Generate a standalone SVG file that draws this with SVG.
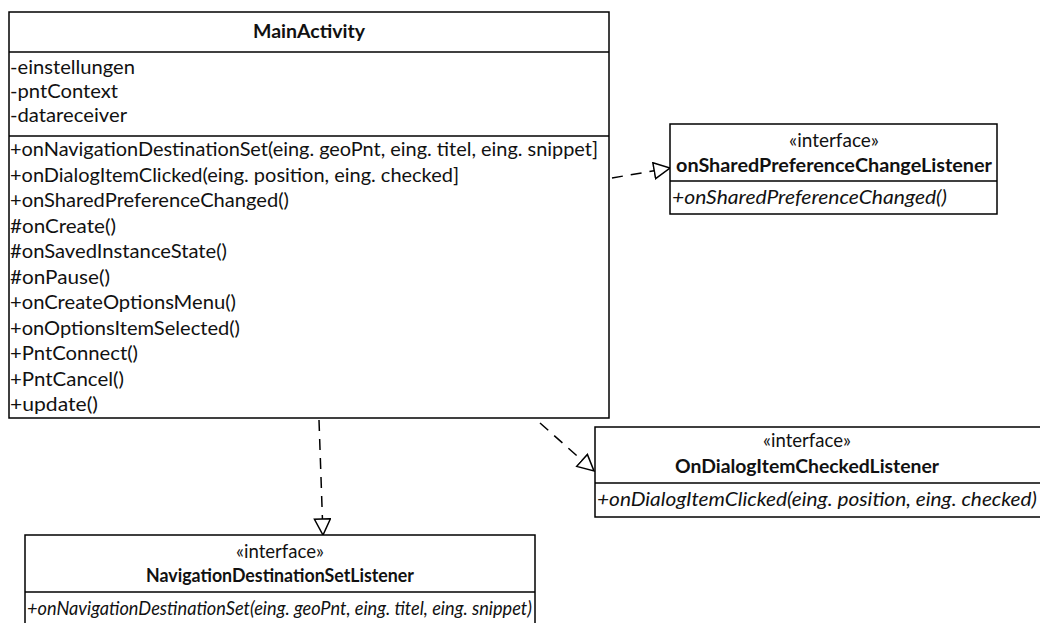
<svg xmlns="http://www.w3.org/2000/svg" width="1040" height="623" viewBox="0 0 1040 623">
<style>
.box{fill:#fff;stroke:#000;stroke-width:1.5}
.sep{stroke:#000;stroke-width:1.5}
.t{font-family:Lato,"Open Sans","Liberation Sans",sans-serif;font-size:19px;fill:#111}
.b{font-weight:bold}
.i{font-style:italic}
.c{text-anchor:middle}
.dep{fill:none;stroke:#000;stroke-width:1.5;stroke-dasharray:11,8}
</style>
<defs>
<marker id="tri" markerUnits="userSpaceOnUse" markerWidth="20" markerHeight="20" refX="17" refY="9" orient="auto" viewBox="0 0 20 20">
<path d="M1,1 L17,9 L1,17 Z" fill="#fff" stroke="#000" stroke-width="1.5"/>
</marker>
</defs>
<rect width="1040" height="623" fill="#fff"/>
<g id="connectors">
<path class="dep" d="M612,178 L670,168" marker-end="url(#tri)"/>
<path class="dep" d="M319,420 L323,535" marker-end="url(#tri)"/>
<path class="dep" d="M540,423 L594,471" marker-end="url(#tri)"/>
</g>
<g id="MainActivity">
<rect class="box" x="9" y="12" width="600" height="406"/>
<line class="sep" x1="9" y1="52" x2="609" y2="52"/>
<line class="sep" x1="9" y1="136" x2="609" y2="136"/>
<text class="t b c" x="309" y="38" textLength="112" lengthAdjust="spacingAndGlyphs">MainActivity</text>
<text class="t" x="10" y="74" textLength="125" lengthAdjust="spacingAndGlyphs">-einstellungen</text>
<text class="t" x="10" y="98" textLength="108" lengthAdjust="spacingAndGlyphs">-pntContext</text>
<text class="t" x="10" y="122" textLength="117" lengthAdjust="spacingAndGlyphs">-datareceiver</text>
<text class="t" x="10" y="156" textLength="588" lengthAdjust="spacingAndGlyphs">+onNavigationDestinationSet(eing. geoPnt, eing. titel, eing. snippet]</text>
<text class="t" x="10" y="181.5" textLength="449" lengthAdjust="spacingAndGlyphs">+onDialogItemClicked(eing. position, eing. checked]</text>
<text class="t" x="10" y="207" textLength="279" lengthAdjust="spacingAndGlyphs">+onSharedPreferenceChanged()</text>
<text class="t" x="10" y="232.5" textLength="106" lengthAdjust="spacingAndGlyphs">#onCreate()</text>
<text class="t" x="10" y="258" textLength="217" lengthAdjust="spacingAndGlyphs">#onSavedInstanceState()</text>
<text class="t" x="10" y="283.5" textLength="100" lengthAdjust="spacingAndGlyphs">#onPause()</text>
<text class="t" x="10" y="309" textLength="226" lengthAdjust="spacingAndGlyphs">+onCreateOptionsMenu()</text>
<text class="t" x="10" y="334.5" textLength="230" lengthAdjust="spacingAndGlyphs">+onOptionsItemSelected()</text>
<text class="t" x="10" y="360" textLength="128" lengthAdjust="spacingAndGlyphs">+PntConnect()</text>
<text class="t" x="10" y="385.5" textLength="114" lengthAdjust="spacingAndGlyphs">+PntCancel()</text>
<text class="t" x="10" y="411" textLength="88" lengthAdjust="spacingAndGlyphs">+update()</text>
</g>
<g id="onSharedPreferenceChangeListener">
<rect class="box" x="670" y="124" width="327" height="90"/>
<line class="sep" x1="670" y1="181" x2="997" y2="181"/>
<text class="t c" x="834" y="147" textLength="90" lengthAdjust="spacingAndGlyphs">«interface»</text>
<text class="t b c" x="834" y="172" textLength="316" lengthAdjust="spacingAndGlyphs">onSharedPreferenceChangeListener</text>
<text class="t i" x="672" y="204" textLength="275" lengthAdjust="spacingAndGlyphs">+onSharedPreferenceChanged()</text>
</g>
<g id="OnDialogItemCheckedListener">
<rect class="box" x="595" y="427" width="460" height="90"/>
<line class="sep" x1="595" y1="483" x2="1055" y2="483"/>
<text class="t c" x="807" y="447" textLength="88" lengthAdjust="spacingAndGlyphs">«interface»</text>
<text class="t b c" x="807" y="473" textLength="264" lengthAdjust="spacingAndGlyphs">OnDialogItemCheckedListener</text>
<text class="t i" x="597" y="506" textLength="440" lengthAdjust="spacingAndGlyphs">+onDialogItemClicked(eing. position, eing. checked)</text>
</g>
<g id="NavigationDestinationSetListener">
<rect class="box" x="25" y="535" width="510" height="100"/>
<line class="sep" x1="25" y1="592" x2="535" y2="592"/>
<text class="t c" x="280" y="558" textLength="88" lengthAdjust="spacingAndGlyphs">«interface»</text>
<text class="t b c" x="280" y="582" textLength="268" lengthAdjust="spacingAndGlyphs">NavigationDestinationSetListener</text>
<text class="t i" x="27" y="615" textLength="505" lengthAdjust="spacingAndGlyphs">+onNavigationDestinationSet(eing. geoPnt, eing. titel, eing. snippet)</text>
</g>
</svg>
